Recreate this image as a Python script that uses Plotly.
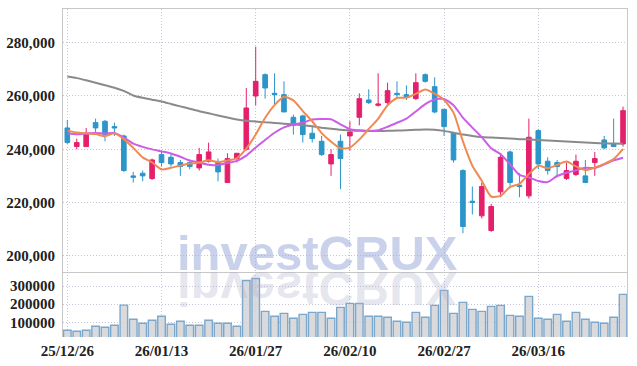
import plotly.graph_objects as go

# ---------------- data ----------------
dates = [
    "25/12/26", "25/12/29", "25/12/30", "26/01/02", "26/01/05", "26/01/06", "26/01/07", "26/01/08", "26/01/09", "26/01/12",
    "26/01/13", "26/01/14", "26/01/15", "26/01/16", "26/01/19", "26/01/20", "26/01/21", "26/01/22", "26/01/23", "26/01/26",
    "26/01/27", "26/01/28", "26/01/29", "26/01/30", "26/02/02", "26/02/03", "26/02/04", "26/02/05", "26/02/06", "26/02/09",
    "26/02/10", "26/02/11", "26/02/12", "26/02/13", "26/02/19", "26/02/20", "26/02/23", "26/02/24", "26/02/25", "26/02/26",
    "26/02/27", "26/03/03", "26/03/04", "26/03/05", "26/03/06", "26/03/09", "26/03/10", "26/03/11", "26/03/12", "26/03/13",
    "26/03/16", "26/03/17", "26/03/18", "26/03/19", "26/03/20", "26/03/23", "26/03/24", "26/03/25", "26/03/26", "26/03/27",
]

open_ = [
    248000, 241000, 241000, 250000, 250500, 248500, 245000, 230000, 231000, 229000,
    238000, 237000, 235000, 235000, 233000, 235500, 235000, 227500, 236500, 240000,
    260000, 268000, 261000, 260500, 252000, 252500, 246000, 243000, 234500, 243000,
    245000, 252000, 258500, 256500, 257500, 261000, 260500, 259000, 268000, 263500,
    255000, 246000, 232000, 220500, 215000, 209500, 224000, 239000, 226500, 222500,
    247000, 235500, 235000, 229000, 230500, 230000, 235000, 243500, 242000, 242000,
]
high = [
    251000, 244000, 248000, 251500, 251000, 250000, 245500, 231500, 232000, 236500,
    239500, 238500, 236000, 236000, 240500, 242500, 236500, 238500, 238500, 263000,
    278500, 268500, 268500, 265500, 253000, 253000, 249000, 245000, 240000, 245500,
    250500, 261000, 262500, 268500, 265000, 265500, 264000, 268500, 268500, 267000,
    255000, 246000, 232500, 226000, 227500, 219500, 238500, 239500, 231000, 251500,
    247500, 237000, 236000, 235000, 238000, 236000, 239000, 245000, 251500, 256000,
]
low = [
    242000, 240000, 241000, 246500, 243000, 245000, 231500, 227500, 228000, 228500,
    233500, 233500, 230000, 232500, 232000, 235000, 228000, 227500, 235000, 239500,
    256500, 259000, 257000, 254000, 245500, 242500, 242500, 237500, 230000, 225000,
    239500, 249000, 257000, 256000, 256500, 259000, 258500, 258500, 265000, 253500,
    245000, 235000, 208500, 215500, 214000, 209000, 222000, 226000, 222000, 221500,
    232500, 230500, 229500, 228500, 230000, 227500, 230000, 240000, 241000, 241000,
]
close = [
    242500, 242500, 246000, 248000, 245500, 248000, 232000, 229500, 230000, 236000,
    235000, 234500, 233500, 233500, 238000, 239000, 231500, 236500, 238500, 255500,
    265500, 263000, 260500, 254000, 249000, 245500, 244000, 238000, 238000, 236500,
    246500, 259000, 257500, 257000, 262000, 260500, 259500, 265000, 265500, 254000,
    248500, 236000, 211000, 220000, 226000, 218500, 237000, 227500, 226000, 244500,
    234500, 232000, 233500, 232000, 235500, 227500, 236500, 240500, 241000, 254500,
]
volume = [
    56000, 50500, 56000, 78000, 72500, 83500, 195000, 116500, 94500, 111000,
    133000, 89000, 105500, 83500, 83500, 111000, 94500, 94500, 78000, 330500,
    341500, 160500, 133000, 149500, 122000, 144000, 155000, 155000, 122000, 182500,
    204500, 204500, 133000, 133000, 127500, 105500, 100000, 155000, 127500, 193500,
    276000, 149500, 210000, 171500, 160500, 188000, 193500, 138500, 133000, 243000,
    122000, 116500, 144000, 105500, 155000, 116500, 100000, 94500, 127500, 254000,
]
ma5 = [
    247000, 246300, 245900, 245700, 244860, 245960, 243810, 240510, 236940, 235060,
    232460, 233040, 233860, 234610, 234990, 235840, 235190, 235790, 236710, 240240,
    245510, 251810, 256590, 259710, 258360, 254340, 250510, 246060, 242860, 240360,
    240640, 243660, 247590, 251440, 256540, 259260, 259340, 260790, 262460, 260860,
    258460, 253760, 242940, 233790, 228210, 222260, 222510, 225810, 227010, 230690,
    233840, 232860, 234110, 235360, 233540, 232210, 233090, 234490, 236290, 240140,
]
ma10 = [
    245900, 245600, 245900, 246100, 245900, 246100, 244400, 242100, 240900, 239960,
    239210, 238430, 237190, 235780, 235030, 234150, 234110, 234830, 235660, 237610,
    240680, 243500, 246190, 248210, 249300, 249930, 251160, 251330, 251290, 249360,
    247490, 247090, 246830, 247150, 248450, 249950, 251500, 254190, 256950, 258700,
    258860, 256550, 251860, 248130, 244540, 240360, 238140, 234380, 230400, 229450,
    228050, 227690, 229960, 231190, 232110, 233030, 232980, 234300, 235830, 236840,
]
ma_long = [
    267300, 266700, 265900, 265000, 264000, 263100, 261900, 260200, 259300, 258600,
    257900, 257000, 256100, 255200, 254300, 253500, 252700, 251900, 251200, 250700,
    250400, 250100, 249900, 249600, 249400, 249000, 248600, 248100, 247700, 247300,
    247100, 246900, 246850, 246850, 246900, 247000, 247150, 247300, 247400, 247350,
    246900, 246200, 245500, 245000, 244600, 244400, 244200, 244000, 243800, 243650,
    243500, 243300, 243100, 242900, 242700, 242500, 242350, 242250, 242150, 242100,
]
price_ticks = [200000, 220000, 240000, 260000, 280000]
volume_ticks = [100000, 200000, 300000]
label_every = 10
watermark = "investCRUX"

# ---------------- figure ----------------
idx = list(range(len(dates)))
tick_idx = idx[::label_every]
tick_txt = [dates[i] for i in tick_idx]

UP = "#e5206b"
DOWN = "#2c95c9"
GRID = "#c4c4da"
GDASH = "1px,2px"
AXLINE = "#c8c8c8"
TXT = "#222222"
FONT = "Liberation Sans Narrow"
tfont = dict(family=FONT, size=15, color=TXT, weight="bold")

fig = go.Figure()

fig.add_trace(go.Bar(
    x=idx, y=volume, xaxis="x2", yaxis="y2",
    marker=dict(color="rgba(212,212,214,0.85)", line=dict(color="#7aa8cd", width=1.4)),
    hoverinfo="skip",
))

fig.add_trace(go.Candlestick(
    x=idx, open=open_, high=high, low=low, close=close,
    increasing=dict(line=dict(color=UP, width=1), fillcolor=UP),
    decreasing=dict(line=dict(color=DOWN, width=1), fillcolor=DOWN),
    whiskerwidth=0,
    xaxis="x", yaxis="y",
))

fig.add_trace(go.Scatter(x=idx, y=ma_long, mode="lines", xaxis="x", yaxis="y",
                         line=dict(color="#8a8a8a", width=2, shape="spline", smoothing=0.6)))
fig.add_trace(go.Scatter(x=idx, y=ma10, mode="lines", xaxis="x", yaxis="y",
                         line=dict(color="#cc5de8", width=2, shape="spline", smoothing=0.6)))
fig.add_trace(go.Scatter(x=idx, y=ma5, mode="lines", xaxis="x", yaxis="y",
                         line=dict(color="#ef8a52", width=2, shape="spline", smoothing=0.6)))

x_range = [-0.46, len(dates) - 1 + 0.42]
split = 0.198

fig.update_layout(
    width=637, height=366,
    margin=dict(l=63, r=10, t=9, b=29, autoexpand=False),
    paper_bgcolor="white", plot_bgcolor="white",
    showlegend=False,
    hovermode=False,
    font=dict(family=FONT, size=15, color=TXT),
    modebar=dict(bgcolor="rgba(0,0,0,0)", color="rgba(0,0,0,0)", activecolor="rgba(0,0,0,0)"),
    xaxis=dict(
        domain=[0, 1], anchor="y", range=x_range, automargin=False,
        tickvals=tick_idx, showticklabels=False, ticks="",
        showgrid=True, gridcolor=GRID, griddash=GDASH, gridwidth=1,
        showline=True, mirror=True, linecolor=AXLINE, linewidth=1,
        zeroline=False, rangeslider=dict(visible=False),
    ),
    yaxis=dict(
        domain=[split, 1], anchor="x", range=[193900, 292650], automargin=False,
        tickvals=price_ticks, tickformat=",d",
        showgrid=True, gridcolor=GRID, griddash=GDASH, gridwidth=1,
        showline=True, mirror=True, linecolor=AXLINE, linewidth=1,
        zeroline=False, ticks="", ticklabelstandoff=4,
        tickfont=tfont,
    ),
    xaxis2=dict(
        domain=[0, 1], anchor="y2", matches="x", range=x_range, automargin=False,
        tickvals=tick_idx, ticktext=tick_txt, ticks="",
        showgrid=True, gridcolor=GRID, griddash=GDASH, gridwidth=1,
        showline=False, zeroline=False, ticklabelstandoff=3,
        tickfont=tfont,
    ),
    yaxis2=dict(
        domain=[0, split], anchor="x2", range=[19000, 377000], automargin=False,
        tickvals=volume_ticks, tickformat="d",
        showgrid=True, gridcolor=GRID, griddash=GDASH, gridwidth=1,
        showline=True, mirror=True, linecolor=AXLINE, linewidth=1,
        zeroline=False, ticks="", ticklabelstandoff=4,
        tickfont=tfont,
    ),
    annotations=[
        dict(text="<b>" + watermark + "</b>", xref="paper", yref="paper",
             x=0.451, y=0.256, xanchor="center", yanchor="middle", showarrow=False,
             font=dict(family="Liberation Sans", size=49, color="rgba(150,165,215,0.5)")),
        dict(text="<b>" + watermark + "</b>", xref="paper", yref="paper",
             x=0.451, y=0.256, xanchor="center", yanchor="middle", showarrow=False,
             font=dict(family="Liberation Sans", size=49, color="rgba(175,175,205,0.32)")),
    ],
)

post = """
document.body.style.margin = '0';
document.body.style.padding = '0';
var gd = document.getElementById('{plot_id}');
function flipRefl(){
  var anns = gd.querySelectorAll('g.annotation');
  if (anns.length < 2) return;
  var t = anns[1].querySelector('text');
  if (!t) return;
  t.removeAttribute('transform');
  var bb = t.getBBox();
  var b = bb.y + bb.height * 0.905 / 1.117 + 1;
  t.setAttribute('transform', 'translate(0,' + (2 * b) + ') scale(1,-1)');
}
flipRefl();
if (gd.on) gd.on('plotly_afterplot', flipRefl);
"""

fig.write_html("out.html", post_script=post, config={"displayModeBar": False})
